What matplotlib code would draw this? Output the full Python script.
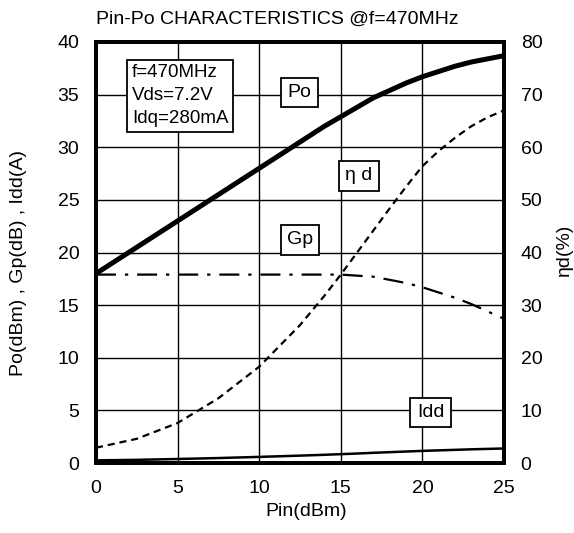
import matplotlib
matplotlib.use("Agg")
import matplotlib.pyplot as plt

plt.rcParams['font.family'] = ['Liberation Sans', 'DejaVu Sans']

# Input power sweep (dBm)
pin = [0, 2.5, 5, 7.5, 10, 12.5, 14, 15, 16, 17, 18, 19, 20, 21, 22, 23, 24, 25]
# Output power (dBm)
po = [18.0, 20.5, 23.0, 25.5, 28.0, 30.5, 32.0, 32.9, 33.8, 34.7, 35.4, 36.1,
      36.7, 37.2, 37.7, 38.1, 38.4, 38.7]
# Power gain (dB)
gp = [17.9, 17.9, 17.9, 17.9, 17.9, 17.9, 17.9, 17.9, 17.8, 17.7, 17.4, 17.1,
      16.7, 16.2, 15.7, 15.1, 14.4, 13.7]
# Drain current (A)
idd = [0.25, 0.3, 0.38, 0.47, 0.58, 0.7, 0.78, 0.84, 0.9, 0.97, 1.03, 1.09,
       1.15, 1.2, 1.25, 1.3, 1.34, 1.38]
# Drain efficiency (%)
eta = [2.9, 4.6, 7.6, 12.3, 18.3, 26.2, 31.8, 35.8, 40.0, 44.2, 48.4, 52.5,
       56.4, 59.3, 61.8, 64.0, 65.7, 67.0]

fig = plt.figure(figsize=(5.74, 5.33), dpi=100)
ax = fig.add_axes([96/574, 1-463/533, 408/574, 421/533])
ax2 = ax.twinx()

ax.plot(pin, po, color='black', lw=3.6, solid_capstyle='butt', zorder=5)
ax.plot(pin, gp, color='black', lw=1.6, dashes=(9, 4, 1.5, 4), zorder=5)
ax.plot(pin, idd, color='black', lw=1.8, zorder=5)
ax2.plot(pin, eta, color='black', lw=1.6, dashes=(3.2, 2.2), zorder=5)

ax.set_xlim(0, 25)
ax.set_ylim(0, 40)
ax2.set_ylim(0, 80)
ax.set_xticks(range(0, 26, 5))
ax.set_yticks(range(0, 41, 5))
ax2.set_yticks(range(0, 81, 10))
ax.grid(True, color='black', lw=1.0)
ax.set_axisbelow(True)

for a in (ax, ax2):
    a.tick_params(length=0, labelsize=14, pad=12)
    for s in a.spines.values():
        s.set_linewidth(2.8)

fig.text(306/574, 1-511/533, 'Pin(dBm)', fontsize=14, ha='center', va='center')
fig.text(19/574, 1-263/533, 'Po(dBm) , Gp(dB) , Idd(A)', fontsize=14,
         rotation=90, ha='center', va='center')
fig.text(564/574, 1-250/533, 'ηd(%)', fontsize=14,
         rotation=90, ha='center', va='center')

fig.text(277/574, 1-19/533, 'Pin-Po CHARACTERISTICS @f=470MHz',
         ha='center', va='center', fontsize=14)

box = dict(boxstyle='square,pad=0.25', fc='white', ec='black', lw=1.3)
ax.text(2.2, 34.9, 'f=470MHz\nVds=7.2V\nIdq=280mA', fontsize=13.5,
        ha='left', va='center', linespacing=1.45, bbox=box, zorder=6)
lbox = dict(boxstyle='square,pad=0.33', fc='white', ec='black', lw=1.3)
ax.text(12.45, 35.2, 'Po', fontsize=14, ha='center', va='center', bbox=lbox, zorder=6)
ax.text(16.1, 27.3, 'η d', fontsize=14, ha='center', va='center', bbox=lbox, zorder=6)
ax.text(12.5, 21.2, 'Gp', fontsize=14, ha='center', va='center', bbox=lbox, zorder=6)
ax.text(20.5, 4.8, 'Idd', fontsize=14, ha='center', va='center', bbox=lbox, zorder=6)

fig.savefig('out.png', dpi=100)
